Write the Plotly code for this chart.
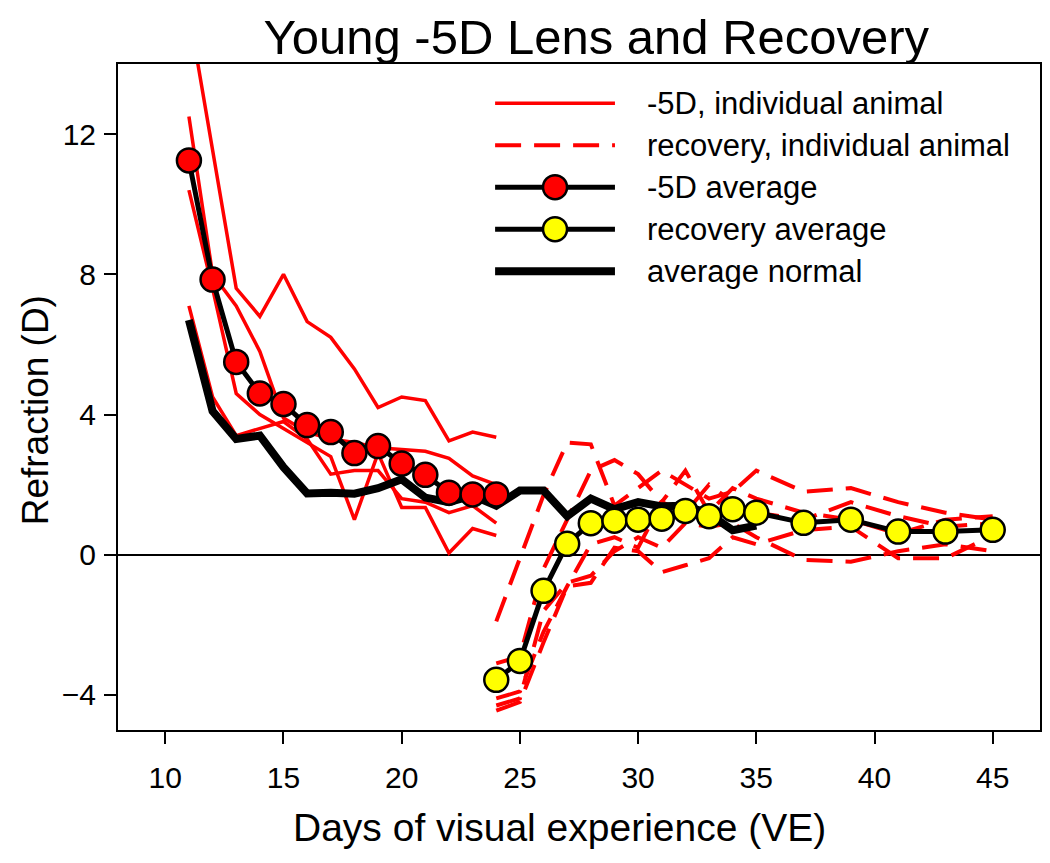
# -*- coding: utf-8 -*-
"""
Young -5D lens wear and recovery, refraction vs days of visual experience
"""

import plotly.graph_objects as go

# days of visual experience
lens_days = [11, 12, 13, 14, 15, 16, 17, 18, 19, 20, 21, 22, 23, 24]
recovery_days = [24, 25, 26, 27, 28, 29, 30, 31, 32, 33, 34, 35, 37, 39, 41, 43, 45]
normal_days = list(range(11, 36))

# -5D, individual animals (refraction, D)
lens_animal_1 = [15.5, 11.6, 7.6, 6.8, 8.0, 6.65, 6.2, 5.3, 4.2, 4.5, 4.4, 3.25, 3.5, 3.35]
lens_animal_2 = [12.5, 8.0, 7.1, 5.8, 3.9, 3.5, 3.3, 3.2, 3.05, 3.0, 2.95, 2.75, 2.25, 2.0]
lens_animal_3 = [10.4, 7.6, 4.6, 4.0, 3.6, 3.2, 2.8, 1.0, 2.9, 1.35, 1.35, 0.05, 0.75, 0.55]
lens_animal_4 = [7.1, 4.5, 3.4, 3.6, 3.8, 3.3, 2.3, 2.4, 2.4, 1.6, 1.5, 1.2, 1.4, 0.9]

# recovery, individual animals
rec_animal_1 = [-1.9, -0.1, 1.7, 3.2, 3.15, 1.4, 1.9, 2.4, 2.0, 1.6, 1.8, 2.4, 1.8, 1.9, 1.5, 1.2, 1.0]
rec_animal_2 = [-3.1, -2.9, -0.4, 1.0, 2.4, 2.7, 2.3, 1.5, 1.2, 2.0, 1.5, 1.2, 1.0, 1.5, 1.1, 0.8, 0.9]
rec_animal_3 = [-4.1, -3.9, -2.2, -0.9, 0.3, 0.5, 0.2, 1.5, 2.4, 1.2, 1.9, 1.6, 1.2, 1.0, 0.6, 1.0, 1.1]
rec_animal_4 = [-4.3, -4.1, -1.6, -0.8, -0.6, 0.1, 0.5, 0.2, 0.9, 0.8, 0.9, 0.5, -0.15, -0.2, 0.1, 0.3, 0.1]
rec_animal_5 = [-4.45, -4.2, -2.5, -0.9, -0.8, 0.2, 0.1, -0.5, -0.3, -0.1, 0.5, 0.3, 0.7, 0.8, -0.1, -0.1, 0.55]

# averages
lens_average = [11.25, 7.85, 5.5, 4.6, 4.3, 3.7, 3.5, 2.9, 3.1, 2.6, 2.28, 1.77, 1.72, 1.72]
recovery_average = [-3.57, -3.03, -1.03, 0.31, 0.9, 0.97, 1.0, 1.03, 1.25, 1.1, 1.3, 1.2,
                    0.91, 1.0, 0.66, 0.66, 0.71]
normal_average = [6.7, 4.1, 3.3, 3.4, 2.5, 1.75, 1.77, 1.74, 1.9, 2.15, 1.63, 1.5, 1.69,
                  1.4, 1.83, 1.83, 1.1, 1.6, 1.3, 1.5, 1.38, 1.4, 1.17, 0.7, 0.83]

legend_labels = ['-5D, individual animal', 'recovery, individual animal',
                 '-5D average', 'recovery average', 'average normal']

FONT = 'Liberation Sans, Arial, sans-serif'
DASH = '26px,13px'


def make_figure():
    fig = go.Figure()

    for vals in [lens_animal_1, lens_animal_2, lens_animal_3, lens_animal_4]:
        fig.add_trace(go.Scatter(x=lens_days, y=vals, mode='lines',
                                 line=dict(color='#ff0000', width=3.5)))
    for vals in [rec_animal_1, rec_animal_2, rec_animal_3, rec_animal_4, rec_animal_5]:
        fig.add_trace(go.Scatter(x=recovery_days, y=vals, mode='lines',
                                 line=dict(color='#ff0000', width=4, dash=DASH)))

    # normal animals, thick black
    fig.add_trace(go.Scatter(x=normal_days, y=normal_average, mode='lines',
                             line=dict(color='black', width=8)))

    # group averages with circles
    fig.add_trace(go.Scatter(x=lens_days, y=lens_average, mode='lines+markers',
                             line=dict(color='black', width=5),
                             marker=dict(size=24, color='#ff0000',
                                         line=dict(color='black', width=2.5))))
    fig.add_trace(go.Scatter(x=recovery_days, y=recovery_average, mode='lines+markers',
                             line=dict(color='black', width=5),
                             marker=dict(size=24, color='#ffff00',
                                         line=dict(color='black', width=2.5))))

    # hand-built legend (long line samples like the original)
    rows = [0.941, 0.878, 0.815, 0.752, 0.689]
    x0, x1, xt = 0.409, 0.539, 0.572
    styles = [dict(color='#ff0000', width=3.5),
              dict(color='#ff0000', width=4, dash=DASH),
              dict(color='black', width=5),
              dict(color='black', width=5),
              dict(color='black', width=8)]
    shapes = []
    for y, st in zip(rows, styles):
        shapes.append(dict(type='line', xref='paper', yref='paper',
                           x0=x0, x1=x1, y0=y, y1=y, line=st))
    for y, col in [(rows[2], '#ff0000'), (rows[3], '#ffff00')]:
        shapes.append(dict(type='circle', xref='paper', yref='paper',
                           xsizemode='pixel', ysizemode='pixel',
                           xanchor=(x0 + x1) / 2, yanchor=y,
                           x0=-12, x1=12, y0=-12, y1=12,
                           fillcolor=col, line=dict(color='black', width=2.5)))
    annotations = []
    for y, lab in zip(rows, legend_labels):
        annotations.append(dict(xref='paper', yref='paper', x=xt, y=y, text=lab,
                                showarrow=False, xanchor='left', yanchor='middle',
                                font=dict(family=FONT, size=31, color='black')))

    # axis titles sit slightly off-centre in the original, so place them by hand
    annotations.append(dict(xref='paper', yref='paper', x=0.479, y=-0.147,
                            text='Days of visual experience (VE)', showarrow=False,
                            xanchor='center', yanchor='middle',
                            font=dict(family=FONT, size=39, color='black')))
    annotations.append(dict(xref='paper', yref='paper', x=-0.09, y=0.48,
                            text='Refraction (D)', showarrow=False, textangle=-90,
                            xanchor='center', yanchor='middle',
                            font=dict(family=FONT, size=37, color='black')))

    # page body adds an 8px offset, so the figure is sized to fit the window
    fig.update_layout(
        width=1034, height=847,
        paper_bgcolor='white', plot_bgcolor='white',
        margin=dict(l=110, r=2, t=56, b=125),
        showlegend=False,
        font=dict(family=FONT, size=30, color='black'),
        title=dict(text='Young -5D Lens and Recovery', x=0.569, xanchor='center',
                   y=0.966, yanchor='middle', yref='container',
                   font=dict(family=FONT, size=49, color='black')),
        shapes=shapes,
        annotations=annotations,
    )
    fig.update_xaxes(range=[8, 47], tickvals=[10, 15, 20, 25, 30, 35, 40, 45],
                     automargin=False, tickfont=dict(size=30),
                     showgrid=False, zeroline=False, showline=True, mirror=True,
                     linecolor='black', linewidth=2, ticks='outside', ticklen=12,
                     tickwidth=2, tickcolor='black', ticklabelstandoff=8)
    fig.update_yaxes(range=[-5, 14], tickvals=[-4, 0, 4, 8, 12],
                     automargin=False, tickfont=dict(size=30),
                     showgrid=False, zeroline=True, zerolinecolor='black',
                     zerolinewidth=1.5, showline=True, mirror=True,
                     linecolor='black', linewidth=2, ticks='outside', ticklen=12,
                     tickwidth=2, tickcolor='black', ticklabelstandoff=2)
    return fig


if __name__ == "__main__":
    fig = make_figure()
    fig.write_html("out.html")
